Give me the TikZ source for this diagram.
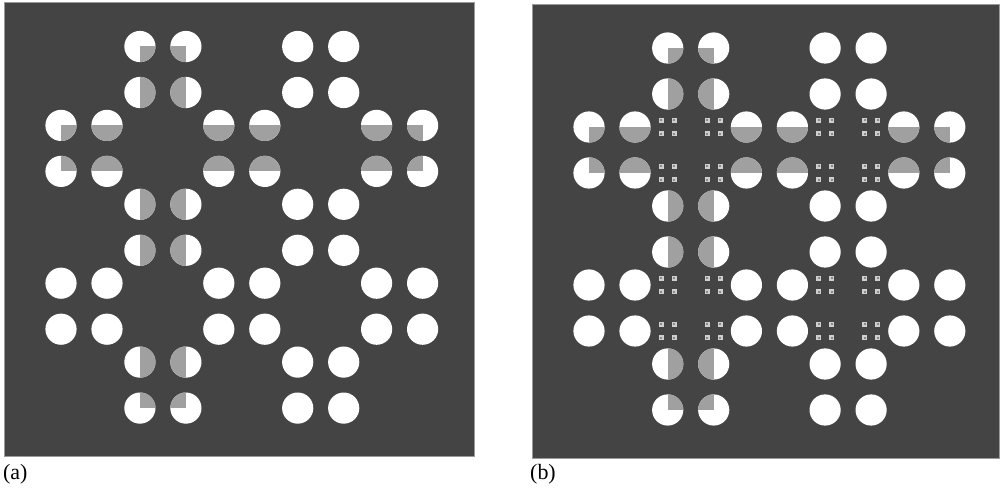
\documentclass[tikz,border=0pt]{standalone}
\usepackage{fontspec}
\setmainfont{Liberation Serif}
\definecolor{bgdark}{HTML}{444444}
\definecolor{halfgrey}{HTML}{A0A0A0}
\definecolor{framegrey}{HTML}{9A9A9A}
\definecolor{padlight}{HTML}{CFCFCF}
\definecolor{padcore}{HTML}{8A8A8A}
\tikzset{
  panel/.style={fill=bgdark,draw=framegrey,line width=0.8bp},
  hole/.style={fill=white},
  band/.style={fill=halfgrey},
  padsq/.style={fill=padlight},
  padmid/.style={fill=padcore},
  caption/.style={font=\fontsize{22}{24}\selectfont,anchor=base west,inner sep=0pt}
}
% #1 x0, #2 y0, #3 pitch x, #4 pitch y
\newcommand\holegrid[4]{%
  \foreach \i/\j in {1/0,3/0,0/1,2/1,4/1,1/2,3/2,0/3,2/3,4/3,1/4,3/4}{
    \foreach \dx in {-23,23}{
      \foreach \dy in {-23,23}{
        \fill[hole] ({#1+#3*\i+\dx},{#2+#4*\j+\dy}) circle (15.6);
      }
    }
  }
  \begin{scope}
    \clip \foreach \i/\j in {1/0,1/2,1/4,0/1,2/1,4/1}{
      \foreach \dx in {-23,23}{
        \foreach \dy in {-23,23}{
          ({#1+#3*\i+\dx},{#2+#4*\j+\dy}) circle (15.6)
        }
      }
    };
    \fill[band] ({#1-23},{#2+#4-23}) rectangle ({#1+4*#3+23},{#2+#4+23});
    \fill[band] ({#1+#3-23},{#2-23}) rectangle ({#1+#3+23},{#2+4*#4+23});
  \end{scope}
}
\newcommand\padgrid[4]{%
  \foreach \i/\j in {1/1,3/1,1/3,3/3}{
    \foreach \dx in {-23,23}{
      \foreach \dy in {-23,23}{
        \foreach \sx in {-6.6,6.6}{
          \foreach \sy in {-6.6,6.6}{
            \fill[padsq] ({#1+#3*\i+\dx+\sx-2.6},{#2+#4*\j+\dy+\sy-2.6}) rectangle ++(5.2,5.2);
            \fill[padmid] ({#1+#3*\i+\dx+\sx-1},{#2+#4*\j+\dy+\sy-1}) rectangle ++(2,2);
          }
        }
      }
    }
  }
}
\begin{document}
\begin{tikzpicture}[x=1bp,y=-1bp]
\useasboundingbox (0,0) rectangle (1005,490);
% panel (a)
\path[panel] (4,2) rectangle (474,456);
\holegrid{84}{69.5}{78.9}{78.9}
\node[caption] (capa) at (3,479) {(a)};
% panel (b)
\path[panel] (532,4) rectangle (999,458);
\holegrid{612}{71}{78.7}{79}
\padgrid{612}{71}{78.7}{79}
\node[caption] (capb) at (530,479) {(b)};
\end{tikzpicture}
\end{document}
